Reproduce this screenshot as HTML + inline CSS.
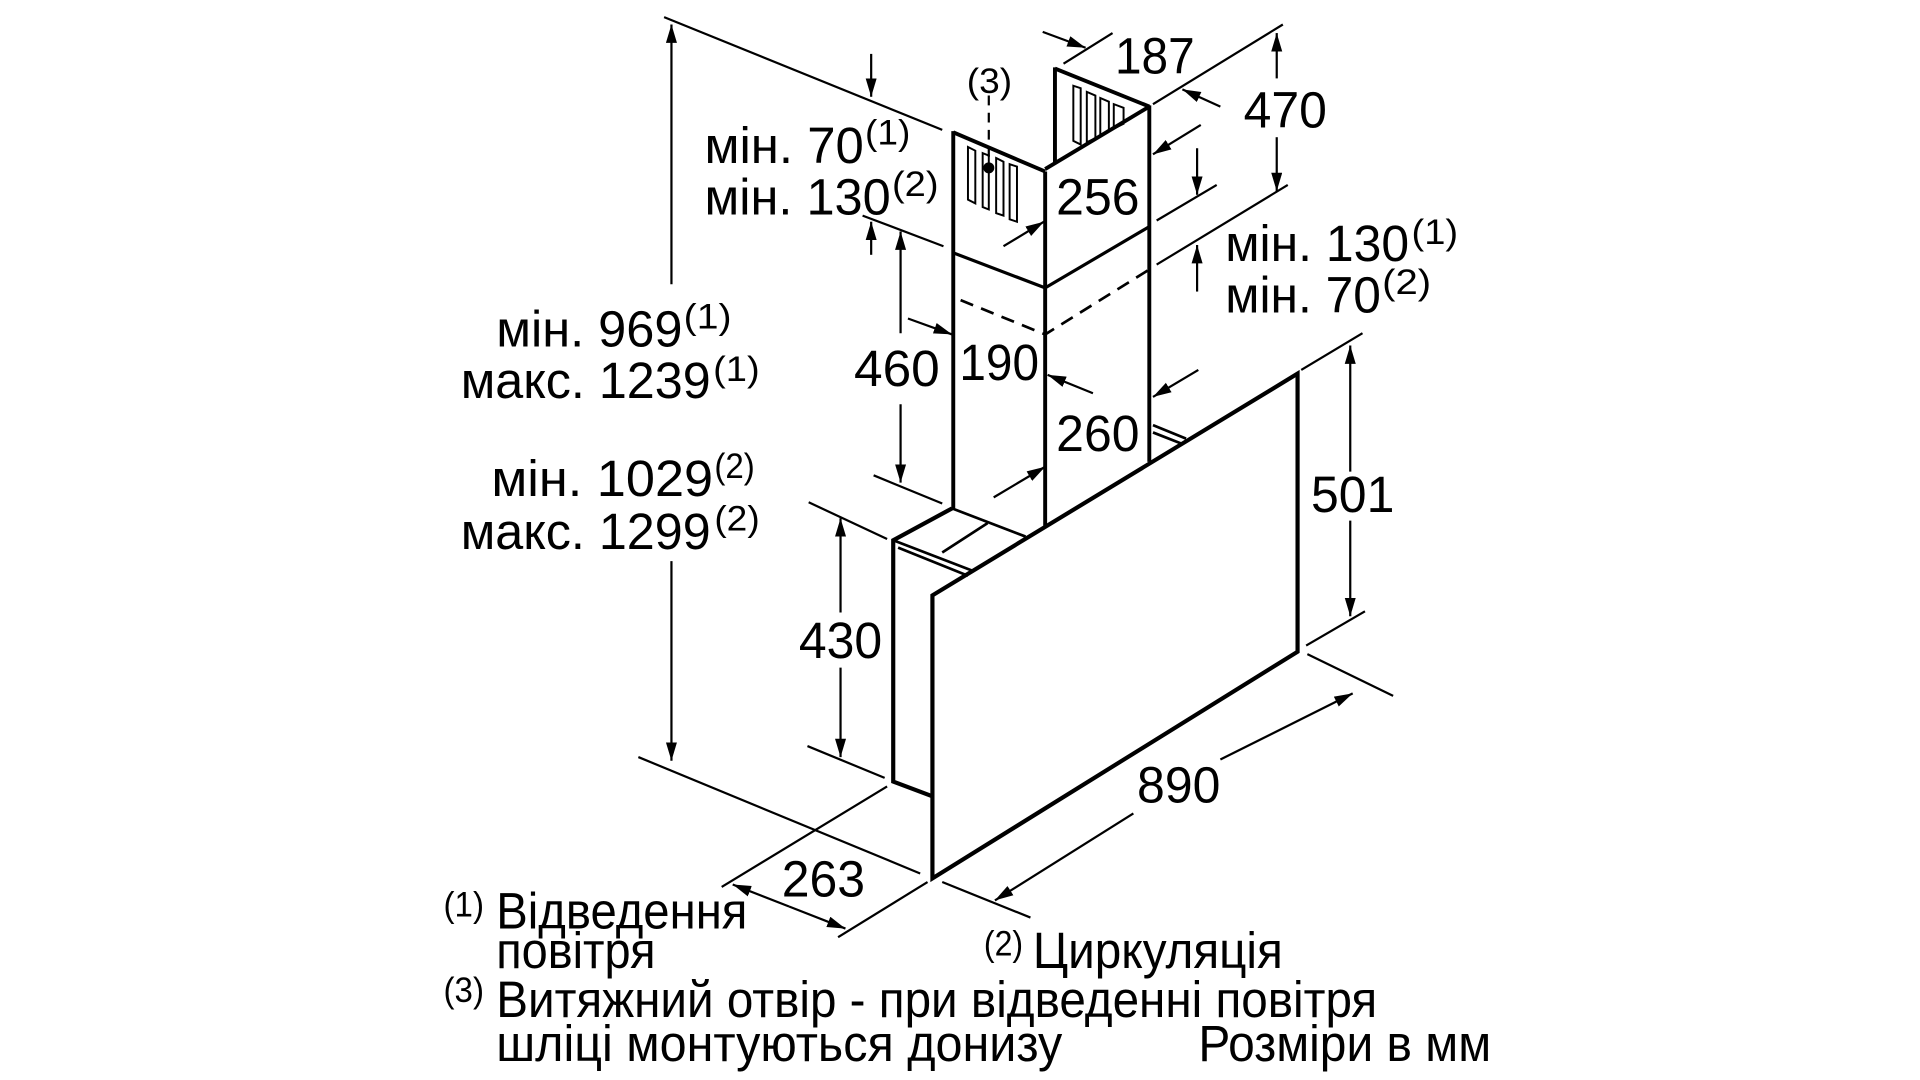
<!DOCTYPE html>
<html><head><meta charset="utf-8"><style>
html,body{margin:0;padding:0;background:#fff;}
svg{display:block}
text{font-family:"Liberation Sans Narrow","Liberation Sans",sans-serif;fill:#000}
.t{font-size:42px}
.s{font-size:29px}
</style></head><body>
<svg width="1920" height="1080" viewBox="0 0 1567 881.6" preserveAspectRatio="none" xmlns="http://www.w3.org/2000/svg">
<defs>
<marker id="a" markerUnits="userSpaceOnUse" markerWidth="16" markerHeight="10" refX="15" refY="4.5" orient="auto">
<path d="M0,0 L15,4.5 L0,9 z" fill="#000"/></marker>
</defs>
<g stroke="#000" stroke-width="1.8" fill="none">
<line x1="542" y1="14" x2="769" y2="106"/>
<line x1="704" y1="176" x2="770" y2="201"/>
<line x1="713" y1="388" x2="769" y2="411"/>
<line x1="521" y1="618" x2="751" y2="713"/>
<line x1="660" y1="410" x2="724" y2="440"/>
<line x1="659" y1="609" x2="722" y2="635"/>
<line x1="724" y1="642" x2="589" y2="724"/>
<line x1="757" y1="720" x2="684" y2="765"/>
<line x1="769" y1="720" x2="841" y2="749"/>
<line x1="1067" y1="534" x2="1137" y2="568"/>
<line x1="1066" y1="527" x2="1114" y2="499"/>
<line x1="1062" y1="302" x2="1112" y2="272"/>
<line x1="868" y1="52" x2="908" y2="27"/>
<line x1="941" y1="85" x2="1047" y2="20"/>
<line x1="944" y1="180" x2="993" y2="151"/>
<line x1="944" y1="216" x2="1051" y2="151"/>
<g marker-end="url(#a)">
<line x1="548" y1="232" x2="548" y2="20"/>
<line x1="548" y1="458" x2="548" y2="621"/>
<line x1="711" y1="44" x2="711" y2="79"/>
<line x1="711" y1="208" x2="711" y2="181"/>
<line x1="735" y1="272" x2="735" y2="189"/>
<line x1="735" y1="330" x2="735" y2="394"/>
<line x1="851" y1="26" x2="886" y2="39"/>
<line x1="996" y1="87" x2="965" y2="73"/>
<line x1="1042" y1="64" x2="1042" y2="27"/>
<line x1="1042" y1="112" x2="1042" y2="156"/>
<line x1="980" y1="102" x2="941" y2="126"/>
<line x1="977" y1="121" x2="977" y2="159"/>
<line x1="977" y1="238" x2="977" y2="200"/>
<line x1="819" y1="201" x2="852" y2="181"/>
<line x1="741" y1="260" x2="777" y2="273"/>
<line x1="892" y1="321" x2="855" y2="306"/>
<line x1="978" y1="302" x2="941" y2="324"/>
<line x1="811" y1="406" x2="853" y2="381"/>
<line x1="1102" y1="385" x2="1102" y2="282"/>
<line x1="1102" y1="425" x2="1102" y2="503"/>
<line x1="686" y1="500" x2="686" y2="423"/>
<line x1="686" y1="545" x2="686" y2="618"/>
<line x1="925" y1="664" x2="812" y2="735"/>
<line x1="996" y1="620" x2="1104" y2="566"/>
<line x1="644" y1="740" x2="598" y2="722"/>
<line x1="644" y1="740" x2="690" y2="758"/>
</g>
<g stroke-width="3.2">
<line x1="778" y1="107" x2="778" y2="415"/>
<line x1="778" y1="108" x2="853" y2="140"/>
<line x1="853" y1="140" x2="853" y2="429"/>
<line x1="861" y1="55" x2="861" y2="134"/>
<line x1="861" y1="56" x2="938" y2="87"/>
<line x1="853" y1="138" x2="938" y2="87"/>
<line x1="938" y1="86" x2="938" y2="377"/>
</g>
<polyline points="777,206 853,235 938,185" stroke-width="2.6"/>
<polyline points="784,245 853,273 938,220" stroke-width="2.2" stroke-dasharray="11,7"/>
<g stroke-width="1.6">
<polygon points="876,70 882,72 882,118 876,115"/>
<polygon points="887,75 894,78 894,113 887,116"/>
<polygon points="898,80 905,83 905,107 898,110"/>
<polygon points="909,85 917,88 917,101 909,105"/>
<polygon points="790,120 796,123 796,166 790,163"/>
<polygon points="802,125 807,127 807,171 802,169"/>
<polygon points="813,129 819,132 819,176 813,174"/>
<polygon points="824,134 830,136 830,181 824,179"/>
</g>
<line x1="807" y1="78" x2="807" y2="135" stroke-dasharray="8,6"/>
<g stroke-width="3.4">
<polygon points="761,486 1059,305 1059,532 761,717"/>
<polyline points="777,415 729,441 729,638 761,650"/>
</g>
<g stroke-width="2.2">
<line x1="777" y1="415" x2="837" y2="438"/>
<line x1="729" y1="441" x2="794" y2="466"/>
<line x1="733" y1="447" x2="790" y2="470"/>
<line x1="769" y1="451" x2="806" y2="427"/>
<line x1="941" y1="347" x2="968" y2="358"/>
<line x1="941" y1="353" x2="964" y2="362"/>
</g>
</g>
<circle cx="807" cy="137" r="4.5" fill="#000"/>
<g class="t">
<text x="405" y="283" textLength="152" lengthAdjust="spacingAndGlyphs">мін. 969</text>
<text x="376" y="325" textLength="204" lengthAdjust="spacingAndGlyphs">макс. 1239</text>
<text x="401" y="405" textLength="181" lengthAdjust="spacingAndGlyphs">мін. 1029</text>
<text x="376" y="448" textLength="204" lengthAdjust="spacingAndGlyphs">макс. 1299</text>
<text x="575" y="133" textLength="130" lengthAdjust="spacingAndGlyphs">мін. 70</text>
<text x="575" y="175" textLength="152" lengthAdjust="spacingAndGlyphs">мін. 130</text>
<text x="1000" y="213" textLength="150" lengthAdjust="spacingAndGlyphs">мін. 130</text>
<text x="1000" y="255" textLength="127" lengthAdjust="spacingAndGlyphs">мін. 70</text>
<text x="910" y="60" textLength="65" lengthAdjust="spacingAndGlyphs">187</text>
<text x="1015" y="104" textLength="68" lengthAdjust="spacingAndGlyphs">470</text>
<text x="862" y="175" textLength="68" lengthAdjust="spacingAndGlyphs">256</text>
<text x="697" y="315" textLength="70" lengthAdjust="spacingAndGlyphs">460</text>
<text x="783" y="310" textLength="65" lengthAdjust="spacingAndGlyphs">190</text>
<text x="862" y="368" textLength="68" lengthAdjust="spacingAndGlyphs">260</text>
<text x="1070" y="418" textLength="68" lengthAdjust="spacingAndGlyphs">501</text>
<text x="652" y="537" textLength="68" lengthAdjust="spacingAndGlyphs">430</text>
<text x="928" y="655" textLength="68" lengthAdjust="spacingAndGlyphs">890</text>
<text x="638" y="732" textLength="68" lengthAdjust="spacingAndGlyphs">263</text>
<text x="405" y="758" textLength="205" lengthAdjust="spacingAndGlyphs">Відведення</text>
<text x="405" y="790" textLength="130" lengthAdjust="spacingAndGlyphs">повітря</text>
<text x="843" y="790" textLength="204" lengthAdjust="spacingAndGlyphs">Циркуляція</text>
<text x="405" y="830" textLength="719" lengthAdjust="spacingAndGlyphs">Витяжний отвір - при відведенні повітря</text>
<text x="405" y="866" textLength="462" lengthAdjust="spacingAndGlyphs">шліці монтуються донизу</text>
<text x="978" y="866" textLength="239" lengthAdjust="spacingAndGlyphs">Розміри в мм</text>
</g>
<g class="s">
<text x="558" y="268" textLength="39" lengthAdjust="spacingAndGlyphs">(1)</text>
<text x="582" y="311" textLength="38" lengthAdjust="spacingAndGlyphs">(1)</text>
<text x="583" y="390" textLength="33" lengthAdjust="spacingAndGlyphs">(2)</text>
<text x="583" y="433" textLength="37" lengthAdjust="spacingAndGlyphs">(2)</text>
<text x="706" y="118" textLength="37" lengthAdjust="spacingAndGlyphs">(1)</text>
<text x="728" y="160" textLength="38" lengthAdjust="spacingAndGlyphs">(2)</text>
<text x="1152" y="199" textLength="38" lengthAdjust="spacingAndGlyphs">(1)</text>
<text x="1128" y="240" textLength="40" lengthAdjust="spacingAndGlyphs">(2)</text>
<text x="789" y="76" textLength="37" lengthAdjust="spacingAndGlyphs">(3)</text>
<text x="362" y="748" textLength="33" lengthAdjust="spacingAndGlyphs">(1)</text>
<text x="803" y="780" textLength="32" lengthAdjust="spacingAndGlyphs">(2)</text>
<text x="362" y="818" textLength="33" lengthAdjust="spacingAndGlyphs">(3)</text>
</g>
</svg>
</body></html>
